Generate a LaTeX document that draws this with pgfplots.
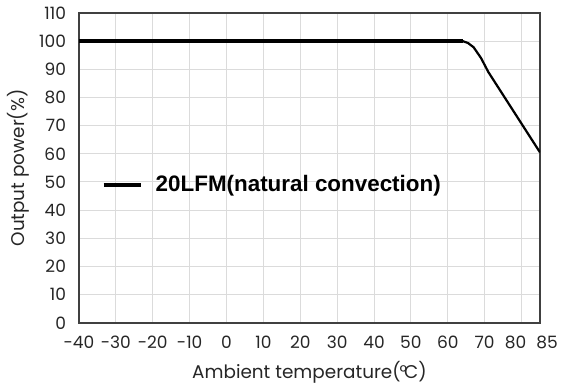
\documentclass[border=0pt]{standalone}
\usepackage{pgfplots}
\pgfplotsset{compat=1.18}
\usepackage{fontspec}
\setmainfont{Poppins}
\newfontfamily\legfont{Liberation Sans}
\begin{document}
\begin{tikzpicture}
\begin{axis}[
 scale only axis, width=230.5pt, height=155pt,
 xmin=-40, xmax=85, ymin=0, ymax=110,
 xtick={-40,-30,...,80,85}, ytick={0,10,...,110},
 xticklabels={-40,-30,-20,-10,0,10,20,30,40,50,60,70,\hbox{\kern-6pt 80},\hbox{85\kern-7pt}},
 grid=major, major grid style={draw=black!14, line width=0.5pt},
 axis line style={draw=black!75, line width=0.8pt},
 major tick length=0pt,
 /pgf/number format/assume math mode=true,
 tick label style={font=\fontsize{8.5}{10}\selectfont, text=black!85},
 xticklabel style={yshift=-3pt},
 yticklabel style={xshift=-3pt},
 xlabel={Ambient temperature(\kern-0.5pt\textdegree\kern-1.5pt C)},
 ylabel={Output power(\%)},
 label style={font=\fontsize{9.2}{11}\selectfont, text=black!85},
 xlabel style={at={(axis description cs:0.5,-0.158)}, anchor=center},
 ylabel style={at={(axis description cs:-0.132,0.5)}, anchor=center},
 legend style={at={(axis description cs:0.035,0.445)}, anchor=west, draw=none, fill=none,
   font=\legfont\bfseries\fontsize{11.2}{13}\selectfont},
 legend image code/.code={\draw[#1, line width=2.2pt] (0pt,0pt) -- (18.5pt,0pt); \path (23pt,0pt);},
 legend cell align=left,
]
\addplot[black, line width=2pt] coordinates {(-40,100) (64,100)};
\addlegendentry{20LFM(natural convection)}
\addplot[black, line width=1.1pt, forget plot] coordinates {
 (64,100) (65.5,99.3) (67,97.8) (69,94) (71,89) (85,60.5)};
\end{axis}
\path (current axis.south west) ++(-39.5pt,-32pt) coordinate (bl);
\path (current axis.north east) ++(11.5pt,5.5pt) coordinate (tr);
\path (bl) rectangle (tr);
\end{tikzpicture}
\end{document}
